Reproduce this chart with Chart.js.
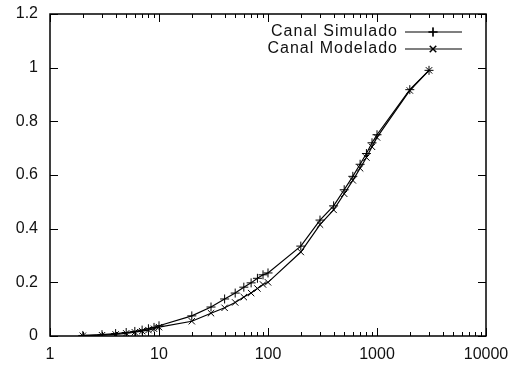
<!DOCTYPE html>
<html>
<head>
<meta charset="utf-8">
<script src="https://cdn.jsdelivr.net/npm/chart.js@4/dist/chart.umd.min.js"></script>
<style>
  html, body { margin: 0; padding: 0; background: #fff; }
  canvas { display: block; }
</style>
</head>
<body>
<canvas id="c" width="518" height="368"></canvas>
<script>
const xValues   = [2,3,4,5,6,7,8,9,10,20,30,40,50,60,70,80,90,100,200,300,400,500,600,700,800,900,1000,2000,3000];
const simulado  = [0.002,0.005,0.009,0.013,0.017,0.022,0.027,0.032,0.038,0.075,0.108,0.138,0.160,0.182,0.198,0.215,0.228,0.235,0.335,0.432,0.485,0.545,0.595,0.640,0.680,0.720,0.750,0.918,0.990];
const modelado  = [0.001,0.003,0.006,0.010,0.014,0.018,0.022,0.027,0.033,0.055,0.085,0.105,0.125,0.145,0.160,0.177,0.192,0.200,0.313,0.415,0.470,0.530,0.580,0.625,0.665,0.705,0.740,0.915,0.990];
const seriesNames = ["Canal Simulado", "Canal Modelado"];
const xTickLabels = [1, 10, 100, 1000, 10000];
const yTickLabels = [0, 0.2, 0.4, 0.6, 0.8, 1, 1.2];

const FONT = "'Liberation Sans', Arial, Helvetica, sans-serif";

const framePlugin = {
  id: 'frame',
  afterDraw(chart) {
    const ctx = chart.ctx;
    const a = chart.chartArea;
    const xs = chart.scales.x, ys = chart.scales.y;
    ctx.save();
    ctx.strokeStyle = '#000';
    ctx.lineWidth = 1.5;
    ctx.strokeRect(a.left, a.top, a.right - a.left, a.bottom - a.top);
    ctx.lineWidth = 1;
    ctx.beginPath();
    yTickLabels.forEach(v => {
      const y = Math.round(ys.getPixelForValue(v)) + 0.5;
      ctx.moveTo(a.left, y); ctx.lineTo(a.left + 8, y);
      ctx.moveTo(a.right, y); ctx.lineTo(a.right - 8, y);
    });
    for (let d = 1; d <= 10000; d *= 10) {
      for (let m = 1; m <= 9; m++) {
        const v = d * m;
        if (v > 10000) break;
        const x = Math.round(xs.getPixelForValue(v)) + 0.5;
        const len = (m === 1) ? 8 : 4;
        ctx.moveTo(x, a.bottom); ctx.lineTo(x, a.bottom - len);
        ctx.moveTo(x, a.top); ctx.lineTo(x, a.top + len);
      }
    }
    ctx.stroke();

    ctx.font = '16px ' + FONT;
    ctx.fillStyle = '#111';
    ctx.textAlign = 'right';
    ctx.textBaseline = 'middle';
    try { ctx.letterSpacing = '1px'; } catch (e) {}
    const rows = [32, 49];
    chart.data.datasets.forEach((ds, i) => {
      const y = rows[i];
      ctx.fillText(ds.label, 398, y);
      ctx.beginPath();
      ctx.lineWidth = 1.2;
      ctx.strokeStyle = '#000';
      ctx.moveTo(405, y); ctx.lineTo(462, y);
      ctx.stroke();
      Chart.helpers.drawPoint(ctx, {
        pointStyle: ds.pointStyle, radius: ds.pointRadius, rotation: 0, borderWidth: 1
      }, 433, y);
      ctx.stroke();
    });
    ctx.restore();
  }
};

new Chart(document.getElementById('c'), {
  type: 'scatter',
  data: {
    datasets: [
      {
        label: seriesNames[0],
        data: xValues.map((x, i) => ({ x: x, y: simulado[i] })),
        showLine: true,
        borderColor: '#000',
        backgroundColor: '#000',
        borderWidth: 1.2,
        pointStyle: 'cross',
        pointRadius: 4.5,
        pointBorderWidth: 1,
        pointBorderColor: '#000'
      },
      {
        label: seriesNames[1],
        data: xValues.map((x, i) => ({ x: x, y: modelado[i] })),
        showLine: true,
        borderColor: '#000',
        backgroundColor: '#000',
        borderWidth: 1.2,
        pointStyle: 'crossRot',
        pointRadius: 4.5,
        pointBorderWidth: 1,
        pointBorderColor: '#000'
      }
    ]
  },
  options: {
    responsive: false,
    animation: false,
    devicePixelRatio: 1,
    layout: { padding: { top: 14, right: 32, left: 0, bottom: 0 } },
    plugins: { legend: { display: false }, tooltip: { enabled: false } },
    scales: {
      x: {
        type: 'logarithmic',
        min: 1, max: 10000,
        grid: { display: false, drawTicks: false },
        border: { display: false },
        afterBuildTicks: s => { s.ticks = xTickLabels.map(v => ({ value: v })); },
        afterFit: s => { s.height = 32; s.paddingLeft = 0; s.paddingRight = 0; },
        ticks: {
          autoSkip: false, maxRotation: 0, padding: 9,
          color: '#111',
          font: { family: FONT, size: 16 },
          callback: v => String(v)
        }
      },
      y: {
        min: 0, max: 1.2,
        grid: { display: false, drawTicks: false },
        border: { display: false },
        afterBuildTicks: s => { s.ticks = yTickLabels.map(v => ({ value: v })); },
        afterFit: s => { s.width = 50; s.paddingTop = 0; s.paddingBottom = 0; },
        ticks: {
          padding: 12,
          color: '#111',
          font: { family: FONT, size: 16 },
          callback: v => String(+Number(v).toFixed(1))
        }
      }
    }
  },
  plugins: [framePlugin]
});
</script>
</body>
</html>
